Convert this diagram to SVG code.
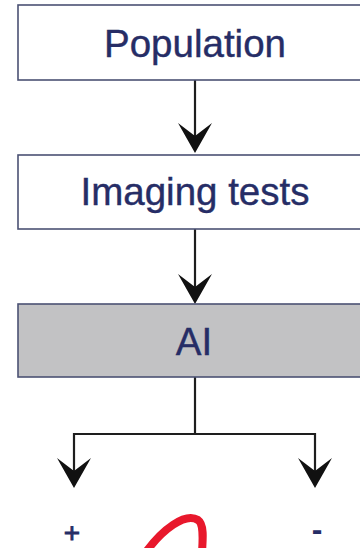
<svg xmlns="http://www.w3.org/2000/svg" width="360" height="548" viewBox="0 0 360 548">
  <style>
    .box { fill: #ffffff; stroke: #4b5274; stroke-width: 1.6; }
    .box.grey { fill: #c2c2c4; }
    .label { font-family: "Liberation Sans", Arial, sans-serif; font-size: 38.5px; fill: #262d66; stroke: #262d66; stroke-width: 0.4; text-anchor: middle; }
    .sign { font-family: "Liberation Sans", Arial, sans-serif; fill: #262d66; text-anchor: middle; }
    .wire { fill: none; stroke: #1e1e1e; stroke-width: 2.2; }
  </style>
  <defs>
    <!-- notched chevron arrowhead, tip at the origin pointing down -->
    <path id="head" d="M0,0 L-17,-30 L0,-17 L17,-30 Z" fill="#111111"/>
  </defs>

  <rect width="360" height="548" fill="#ffffff"/>

  <g id="connectors">
    <line class="wire" x1="195" y1="80" x2="195" y2="140"/>
    <use href="#head" x="195" y="153"/>
    <line class="wire" x1="195" y1="229" x2="195" y2="291"/>
    <use href="#head" x="195" y="304"/>
    <polyline class="wire" points="195,377 195,434"/>
    <polyline class="wire" points="74,475 74,434 315,434 315,475"/>
    <use href="#head" x="74" y="488"/>
    <use href="#head" x="315" y="488"/>
  </g>

  <g id="population">
    <rect class="box" x="18" y="5" width="360" height="75"/>
    <text class="label" x="195" y="57">Population</text>
  </g>

  <g id="imaging-tests">
    <rect class="box" x="18" y="155" width="360" height="74"/>
    <text class="label" x="195" y="205">Imaging tests</text>
  </g>

  <g id="ai">
    <rect class="box grey" x="18" y="304" width="360" height="73"/>
    <text class="label" x="194" y="355">AI</text>
  </g>

  <g id="positive">
    <text class="sign" x="72" y="541.5" font-size="28" stroke="#262d66" stroke-width="0.9">+</text>
  </g>

  <g id="negative">
    <text class="sign" x="317" y="540" font-size="32" font-weight="bold">-</text>
  </g>

  <!-- red pen stroke along the bottom edge -->
  <path d="M146,552 C162,530 185,512 198,520 C204,524 203,538 202,552" fill="none" stroke="#e8182c" stroke-width="8" stroke-linecap="round"/>
</svg>
